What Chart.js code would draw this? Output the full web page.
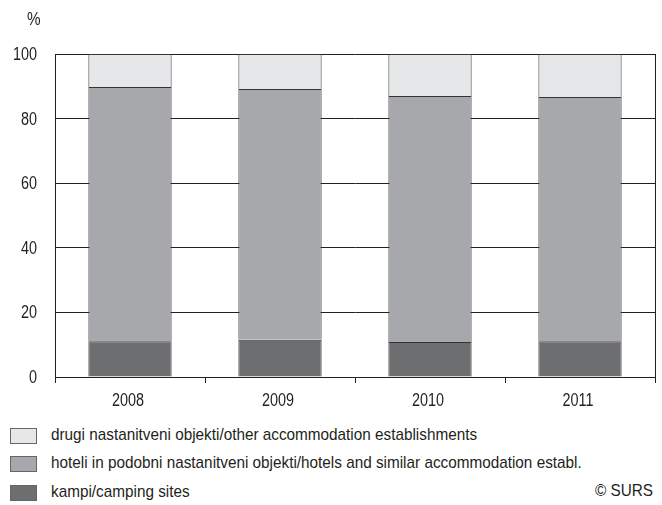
<!DOCTYPE html>
<html>
<head>
<meta charset="utf-8">
<script src="https://cdn.jsdelivr.net/npm/chart.js@4"></script>
<style>
    body { margin: 0; background: #fff; font-family: "Liberation Sans", Arial, sans-serif; color: #231f20; }
    #wrap { position: relative; width: 662px; height: 505px; }
    #chartBox { position: absolute; left: 0; top: 0; width: 662px; height: 412px; }
    #unit { position: absolute; left: 27px; top: 9px; font-size: 18px; transform: scaleX(0.85); transform-origin: left top; }
    .leg { position: absolute; left: 10px; height: 16px; }
    .leg span.box { position: absolute; left: 0; top: 0; width: 27px; height: 16px; border: 1px solid #666; box-sizing: border-box; }
    .leg span.txt { position: absolute; left: 41px; top: -3px; font-size: 17px; line-height: 20px; white-space: nowrap; transform: scaleX(0.9); transform-origin: left top; }
    #surs { position: absolute; left: 595px; top: 481px; font-size: 17px; line-height: 20px; transform: scaleX(0.9); transform-origin: left top; white-space: nowrap; }
</style>
</head>
<body>
<div id="wrap">
    <div id="chartBox"><canvas id="chart"></canvas></div>
    <div id="unit">%</div>
    <div class="leg" style="top:428px"><span class="box" style="background:#e6e7e8"></span><span class="txt">drugi nastanitveni objekti/other accommodation establishments</span></div>
    <div class="leg" style="top:456px"><span class="box" style="background:#a7a8ab"></span><span class="txt">hoteli in podobni nastanitveni objekti/hotels and similar accommodation establ.</span></div>
    <div class="leg" style="top:485px"><span class="box" style="background:#6d6e70"></span><span class="txt">kampi/camping sites</span></div>
    <div id="surs">© SURS</div>
</div>
<script>
const years = ['2008', '2009', '2010', '2011'];
const camping = [11.1, 11.5, 10.8, 11.1];
const hotels = [78.7, 77.7, 76.2, 75.6];
const other = [10.2, 10.8, 13.0, 13.3];
const yTicks = [0, 20, 40, 60, 80, 100];

const inkColor = '#231f20';

// desna obroba + ozke oznake osi (pisava je zožana)
const frameAndLabels = {
    id: 'frameAndLabels',
    afterDraw(chart) {
        const a = chart.chartArea;
        const ctx = chart.ctx;
        const xs = chart.scales.x;
        const ys = chart.scales.y;
        ctx.save();
        ctx.strokeStyle = inkColor;
        ctx.lineWidth = 1;
        ctx.beginPath();
        ctx.moveTo(Math.round(a.right) + 0.5, a.top);
        ctx.lineTo(Math.round(a.right) + 0.5, a.bottom);
        ctx.stroke();

        ctx.fillStyle = inkColor;
        ctx.font = '18px "Liberation Sans", Arial, sans-serif';
        ctx.textBaseline = 'middle';
        const sx = 0.8;
        yTicks.forEach(function (v) {
            const y = ys.getPixelForValue(v);
            ctx.save();
            ctx.translate(a.left - 18, y + 1);
            ctx.scale(sx, 1);
            ctx.textAlign = 'right';
            ctx.fillText(String(v), 0, 0);
            ctx.restore();
        });
        years.forEach(function (yr, i) {
            const x = xs.getPixelForValue(i);
            ctx.save();
            ctx.translate(x - 2, a.bottom + 24);
            ctx.scale(sx, 1);
            ctx.textAlign = 'center';
            ctx.fillText(yr, 0, 0);
            ctx.restore();
        });
        ctx.restore();
    }
};

const barStyle = { borderColor: '#333333', borderWidth: 1, barPercentage: 0.555, categoryPercentage: 1 };

new Chart(document.getElementById('chart'), {
    type: 'bar',
    data: {
        labels: years,
        datasets: [
            Object.assign({ label: 'kampi/camping sites', data: camping, backgroundColor: '#6d6e70' }, barStyle),
            Object.assign({ label: 'hoteli', data: hotels, backgroundColor: '#a7a8ab' }, barStyle),
            Object.assign({ label: 'drugi', data: other, backgroundColor: '#e6e7e8' }, barStyle)
        ]
    },
    options: {
        responsive: true,
        maintainAspectRatio: false,
        animation: false,
        layout: { padding: { top: 54, right: 7, left: 0, bottom: 0 } },
        plugins: { legend: { display: false }, tooltip: { enabled: false } },
        scales: {
            x: {
                stacked: true,
                grid: { offset: true, drawOnChartArea: false, color: inkColor, tickLength: 6 },
                border: { color: inkColor },
                ticks: { display: false },
                afterFit(scale) { scale.height = 35; }
            },
            y: {
                stacked: true,
                min: 0,
                max: 100,
                afterBuildTicks(scale) { scale.ticks = yTicks.map(v => ({ value: v })); },
                grid: { color: inkColor, drawTicks: false },
                border: { color: inkColor },
                ticks: { display: false },
                afterFit(scale) { scale.width = 55; }
            }
        }
    },
    plugins: [frameAndLabels]
});
</script>
</body>
</html>
